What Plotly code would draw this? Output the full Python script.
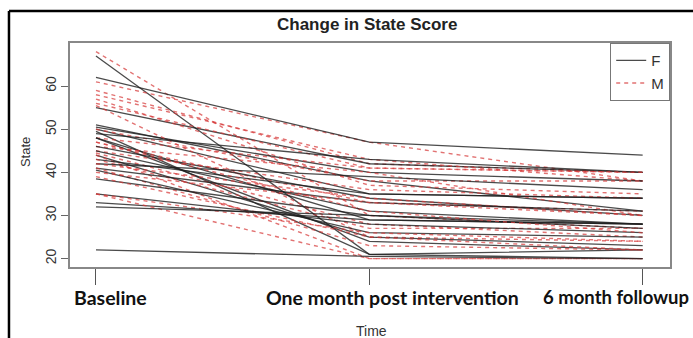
import plotly.graph_objects as go

# Time points (x positions 1, 2, 3) and their labels
time_points = [1, 2, 3]
time_labels = ["Baseline", "One month post intervention", "6 month followup"]
label_shift = [-24, -105, -102]  # left edge of each label relative to its tick, px
label_size = [19.5, 19.5, 18.5]

# State scores per subject, females
F_base = [67, 62, 55, 51, 50.5, 50, 49.5, 49, 48, 48, 46, 45, 44, 43, 42, 41, 40.5, 38.5, 35, 33, 32, 22]
F_month1 = [21, 47, 42, 38, 40, 35, 21, 43, 29, 24, 34, 31, 25, 35, 39, 33, 26, 30, 28, 29, 30, 20.5]
F_month6 = [22, 44, 40, 31, 38, 34, 20, 40, 28, 22, 30, 28, 23, 34, 36, 31, 25, 27, 26, 28, 28, 20]

# State scores per subject, males
M_base = [68, 61, 59, 58, 57, 56, 55.5, 50, 48, 47, 46, 45, 44.5, 44, 43, 42, 41, 40, 39, 35, 35, 47]
M_month1 = [30, 47, 42, 43, 37, 41, 25, 38, 41, 33, 40, 36, 28, 20, 27, 34, 23, 33, 25, 26, 20, 31]
M_month6 = [27, 38, 40, 38, 35, 40, 24, 38, 40, 31, 30, 34, 25, 20, 27, 30, 22, 30, 22, 24, 20, 26]

y_ticks = [20, 30, 40, 50, 60]

NARROW = "Liberation Sans Narrow, Arial Narrow, Liberation Sans, Arial, sans-serif"
F_STYLE = dict(color="rgba(30,30,30,0.8)", width=1.3)
M_STYLE = dict(color="rgba(215,60,60,0.72)", width=1.4, dash="4px,4px")

fig = go.Figure()

n = max(len(F_base), len(M_base))
for i in range(n):
    if i < len(M_base):
        fig.add_trace(go.Scatter(
            x=time_points, y=[M_base[i], M_month1[i], M_month6[i]],
            mode="lines", line=M_STYLE, name="M", legendgroup="M",
            legendrank=2, showlegend=(i == 0), hoverinfo="skip"))
    if i < len(F_base):
        fig.add_trace(go.Scatter(
            x=time_points, y=[F_base[i], F_month1[i], F_month6[i]],
            mode="lines", line=F_STYLE, name="F", legendgroup="F",
            legendrank=1, showlegend=(i == 0), hoverinfo="skip"))

annotations = []
for tp, lab, sh, sz in zip(time_points, time_labels, label_shift, label_size):
    annotations.append(dict(
        x=tp, xref="x", y=-0.134, yref="paper", text=lab, showarrow=False,
        xanchor="left", yanchor="middle", xshift=sh,
        font=dict(family="Lato", size=sz, color="#111", weight="bold")))

annotations += [
    dict(x=0.495, y=1.083, xref="paper", yref="paper", text="<b>Change in State Score</b>",
         showarrow=False, xanchor="center", yanchor="middle",
         font=dict(family=NARROW, size=17, color="#222")),
    dict(x=0.502, y=-0.286, xref="paper", yref="paper", text="Time",
         showarrow=False, xanchor="center", yanchor="middle",
         font=dict(family=NARROW, size=14, color="#333")),
    dict(x=-0.075, y=0.513, xref="paper", yref="paper", text="State", textangle=-90,
         showarrow=False, xanchor="center", yanchor="middle",
         font=dict(family=NARROW, size=13, color="#333")),
]

# Outer frame around the figure (left and top edges visible)
frame = dict(type="line", xref="paper", yref="paper", line=dict(color="black", width=2.5))
shapes = [
    dict(frame, x0=-0.1017, x1=-0.1017, y0=1.1429, y1=-0.33),
    dict(frame, x0=-0.1017, x1=1.05, y0=1.1429, y1=1.1429),
]

fig.update_layout(
    width=693, height=338,
    margin=dict(l=70, r=23, t=43, b=71),
    paper_bgcolor="white", plot_bgcolor="white",
    showlegend=True,
    legend=dict(x=1, xanchor="right", y=1, yanchor="top",
                bordercolor="#777", borderwidth=1.2, bgcolor="white",
                font=dict(family=NARROW, size=15, color="#333"),
                tracegroupgap=0, itemwidth=30),
    annotations=annotations,
    shapes=shapes,
    xaxis=dict(range=[0.905, 3.10], tickvals=time_points, showticklabels=False,
               ticks="outside", ticklen=16, tickwidth=1.4, tickcolor="#555",
               showline=True, linecolor="#888", linewidth=1.5, mirror=True,
               showgrid=False, zeroline=False),
    yaxis=dict(range=[18.05, 70], tickvals=y_ticks, tickangle=-90,
               ticks="outside", ticklen=7, tickwidth=1.2, tickcolor="#666",
               tickfont=dict(family=NARROW, size=14, color="#333"),
               showline=True, linecolor="#888", linewidth=1.5, mirror=True,
               showgrid=False, zeroline=False),
)

fig.write_html("out.html")
